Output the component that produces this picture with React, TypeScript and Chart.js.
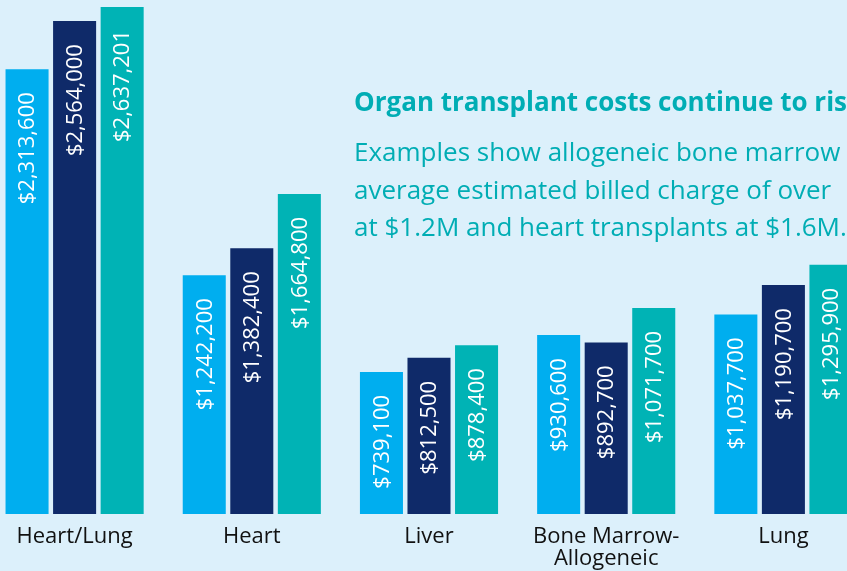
import React, { useEffect, useRef } from "react";
import { Chart, registerables } from "chart.js";

Chart.register(...registerables);

const categories: (string | string[])[] = [
  "Heart/Lung",
  "Heart",
  "Liver",
  ["Bone Marrow-", "Allogeneic"],
  "Lung",
];
const seriesA = [2313600, 1242200, 739100, 930600, 1037700];
const seriesB = [2564000, 1382400, 812500, 892700, 1190700];
const seriesC = [2637201, 1664800, 878400, 1071700, 1295900];
const seriesNames = ["Series A", "Series B", "Series C"];

const titleText = "Organ transplant costs continue to rise";
const subtitleLines = [
  "Examples show allogeneic bone marrow",
  "average estimated billed charge of over",
  "at $1.2M and heart transplants at $1.6M.",
];

const COLORS = ["#00aeef", "#0f2a69", "#00b3b5"];
const BG = "#dcf0fb";
const TEAL_TEXT = "#00adb4";
const FONT = "'Open Sans', 'Noto Sans', sans-serif";

const fmt = (v: number) => "$" + v.toLocaleString("en-US");

const valueLabelPlugin = {
  id: "valueLabels",
  afterDatasetsDraw(chart: any) {
    const ctx = chart.ctx;
    ctx.save();
    ctx.fillStyle = "#ffffff";
    ctx.font = `22px ${FONT}`;
    ctx.textAlign = "right";
    ctx.textBaseline = "middle";
    chart.data.datasets.forEach((ds: any, di: number) => {
      const meta = chart.getDatasetMeta(di);
      meta.data.forEach((bar: any, i: number) => {
        const v = ds.data[i] as number;
        ctx.save();
        ctx.translate(bar.x + 1, bar.y + 23);
        ctx.rotate(-Math.PI / 2);
        ctx.fillText(fmt(v), 0, 0);
        ctx.restore();
      });
    });
    ctx.restore();
  },
};

export default function App() {
  const ref = useRef<HTMLCanvasElement | null>(null);
  useEffect(() => {
    if (!ref.current) return;
    const chart = new Chart(ref.current, {
      type: "bar",
      data: {
        labels: categories,
        datasets: [seriesA, seriesB, seriesC].map((d, i) => ({
          label: seriesNames[i],
          data: d,
          backgroundColor: COLORS[i],
          borderWidth: 0,
          categoryPercentage: 0.805,
          barPercentage: 0.905,
        })),
      },
      options: {
        animation: false,
        responsive: false,
        maintainAspectRatio: false,
        layout: { padding: { left: 0, right: 0, top: 0, bottom: 0 } },
        plugins: {
          legend: { display: false },
          tooltip: { enabled: false },
          title: { display: false },
        },
        scales: {
          x: {
            grid: { display: false, drawTicks: false },
            border: { display: false },
            ticks: {
              color: "#111111",
              font: { family: FONT, size: 22, lineHeight: 1.0 },
              padding: 12,
              autoSkip: false,
              maxRotation: 0,
              minRotation: 0,
            },
            afterFit: (scale: any) => {
              scale.height = 57;
            },
          },
          y: {
            display: false,
            min: 0,
            max: 2673600,
          },
        },
      },
      plugins: [valueLabelPlugin],
    });
    return () => chart.destroy();
  }, []);

  return (
    <div
      style={{
        position: "fixed",
        left: 0,
        top: 0,
        width: 847,
        height: 571,
        overflow: "hidden",
        background: BG,
      }}
    >
      <canvas
        ref={ref}
        width={886}
        height={571}
        style={{ position: "absolute", left: -14, top: 0, width: 886, height: 571 }}
      />
      <div
        style={{
          position: "absolute",
          left: 354,
          top: 88,
          whiteSpace: "nowrap",
          fontFamily: FONT,
          fontWeight: 700,
          fontSize: 26,
          lineHeight: 1,
          color: TEAL_TEXT,
        }}
      >
        {titleText}
      </div>
      {subtitleLines.map((t, i) => (
        <div
          key={i}
          style={{
            position: "absolute",
            left: 354,
            top: 138 + i * 37.5,
            whiteSpace: "nowrap",
            fontFamily: FONT,
            fontSize: 26,
            lineHeight: 1,
            color: TEAL_TEXT,
          }}
        >
          {t}
        </div>
      ))}
    </div>
  );
}
